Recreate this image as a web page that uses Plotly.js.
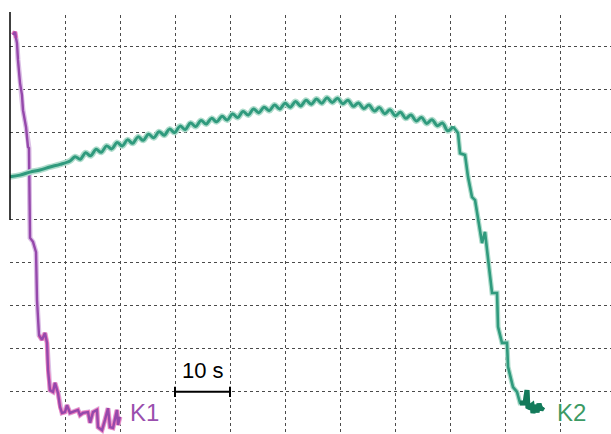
<!DOCTYPE html>
<html>
<head>
<meta charset="utf-8">
<script src="https://cdn.plot.ly/plotly-3.0.1.min.js"></script>
<style>html,body{margin:0;padding:0;background:#fff;}#chart{width:611px;height:434px;}</style>
</head>
<body>
<div id="chart"></div>
<script>
// time in seconds, signal in grid divisions
const k1T = [0.55, 0.91, 1.09, 1.27, 1.45, 1.82, 2.18, 2.36, 2.91, 3.27, 3.45, 3.55, 3.64, 3.64, 4.18, 4.73, 4.91, 5.27, 5.82, 6.36, 6.73, 6.91, 7.27, 7.82, 8.18, 8.73, 9.09, 9.45, 10.0, 10.36, 10.91, 11.45, 12.36, 12.73, 13.27, 14.18, 14.55, 15.09, 15.82, 16.0, 16.73, 17.27, 17.82, 18.18, 18.73, 19.45, 19.64, 20.0];
const k1Y = [9.28, 9.35, 9.21, 9.09, 8.70, 8.16, 7.88, 7.53, 7.14, 6.67, 6.65, 5.44, 4.98, 4.56, 4.47, 4.23, 3.12, 2.30, 2.19, 2.35, 2.12, 1.49, 1.02, 0.98, 1.19, 0.95, 0.63, 0.49, 0.51, 0.67, 0.49, 0.51, 0.56, 0.44, 0.49, 0.51, 0.26, 0.51, 0.56, 0.16, 0.09, 0.33, 0.60, 0.16, 0.14, 0.56, 0.21, 0.40];

const k2T = [0, 1.82, 3.64, 5.45, 7.27, 9.09, 10.91,
  11.82, 12.77, 13.73, 14.68, 15.64, 16.59, 17.55, 18.50, 19.45, 20.41,
  21.36, 22.32, 23.27, 24.23, 25.18, 26.14, 27.09, 28.05, 29.00, 29.95,
  30.91, 31.86, 32.82, 33.77, 34.73, 35.68, 36.64, 37.59, 38.55, 39.50,
  40.45, 41.41, 42.36, 43.32, 44.27, 45.23, 46.18, 47.14, 48.09, 49.05,
  50.00, 50.95, 51.91, 52.86, 53.82, 54.77, 55.73, 56.68, 57.64, 58.59,
  59.55, 60.50, 61.45, 62.41, 63.36, 64.32, 65.27, 66.23, 67.18, 68.14,
  69.09, 70.05, 71.00, 71.95, 72.91, 73.86, 74.82, 75.77, 76.73, 77.68,
  78.64, 79.59, 80.55,
  81.45, 81.82, 82.73, 83.27, 84.0, 84.55, 85.09, 85.82, 86.36, 86.55, 87.09, 87.64, 88.55, 88.73, 89.45, 90.36, 90.55, 91.45, 92.18, 92.73, 93.64, 94.0, 94.18, 94.91, 95.09, 95.45, 95.82, 96.18, 96.55, 96.91];
const k2Y = [5.98, 6.02, 6.09, 6.14, 6.21, 6.27, 6.35,
  6.45, 6.39, 6.54, 6.47, 6.62, 6.55, 6.70, 6.63, 6.78, 6.70,
  6.84, 6.76, 6.91, 6.83, 6.97, 6.89, 7.03, 6.95, 7.09, 7.01,
  7.16, 7.08, 7.23, 7.15, 7.29, 7.21, 7.34, 7.26, 7.39, 7.30,
  7.44, 7.36, 7.50, 7.42, 7.56, 7.47, 7.60, 7.52, 7.65, 7.56,
  7.69, 7.60, 7.73, 7.63, 7.76, 7.67, 7.79, 7.69, 7.82, 7.71,
  7.81, 7.68, 7.76, 7.62, 7.70, 7.57, 7.65, 7.51, 7.59, 7.45,
  7.54, 7.40, 7.48, 7.34, 7.42, 7.28, 7.36, 7.22, 7.31, 7.17,
  7.23, 7.05, 7.15,
  7.00, 6.53, 6.49, 5.98, 5.51, 5.44, 4.98, 4.44, 4.70, 4.44, 3.88, 3.28, 3.28, 2.49, 2.12, 2.12, 1.56, 1.09, 0.98, 0.72, 0.72, 1.02, 0.60, 0.67, 0.49, 0.67, 0.51, 0.70, 0.56, 0.63];

const seriesNames = ['K1', 'K2'];
const scaleBarLabel = '10 s';

const pinkStart = 17;
const dropStart = k2T.findIndex(t => t >= 80.5);
const blobStart = k2T.findIndex(t => t >= 92.7);

const rT = k2T.slice(0, dropStart + 1), rY = k2Y.slice(0, dropStart + 1);
const dT = k2T.slice(dropStart), dY = k2Y.slice(dropStart);

const traces = [
  {x: k1T, y: k1Y, mode: 'lines', line: {color: '#dcc0e6', width: 5}, hoverinfo: 'skip'},
  {x: k1T.slice(0, 3), y: k1Y.slice(0, 3), mode: 'lines', line: {color: '#ef6cb4', width: 4}, hoverinfo: 'skip'},
  {x: k1T.slice(pinkStart), y: k1Y.slice(pinkStart), mode: 'lines', line: {color: '#f07cbc', width: 4}, hoverinfo: 'skip'},
  {x: k1T, y: k1Y, mode: 'lines', name: seriesNames[0], line: {color: '#9548ab', width: 2.4}},
  {x: rT, y: rY, mode: 'lines', line: {color: '#afdccc', width: 6, shape: 'spline', smoothing: 1}, hoverinfo: 'skip'},
  {x: dT, y: dY, mode: 'lines', line: {color: '#afdccc', width: 5}, hoverinfo: 'skip'},
  {x: rT, y: rY, mode: 'lines', name: seriesNames[1], line: {color: '#2f9a7d', width: 3, shape: 'spline', smoothing: 1}},
  {x: dT, y: dY, mode: 'lines', line: {color: '#2f9a7d', width: 2.6}, hoverinfo: 'skip'},
  {x: k2T.slice(blobStart), y: k2Y.slice(blobStart), mode: 'lines', line: {color: '#137a5a', width: 5}, hoverinfo: 'skip'}
];

const layout = {
  width: 611, height: 434,
  margin: {l: 10, r: 0, t: 15, b: 0},
  paper_bgcolor: '#ffffff', plot_bgcolor: '#ffffff',
  showlegend: false,
  font: {family: 'Liberation Sans, Arial, sans-serif'},
  xaxis: {range: [0, 109.27], tick0: 0, dtick: 10, showgrid: true, gridcolor: '#4a4a4a', gridwidth: 1, griddash: '3px,3px',
          zeroline: false, showline: false, showticklabels: false, ticks: ''},
  yaxis: {range: [0, 9.744], tick0: 0, dtick: 1, showgrid: true, gridcolor: '#4a4a4a', gridwidth: 1, griddash: '3px,3px',
          zeroline: false, showline: false, showticklabels: false, ticks: ''},
  shapes: [
    {type: 'line', xref: 'paper', yref: 'paper', x0: 0, x1: 0, y0: 0.511, y1: 1.007, line: {color: '#000000', width: 1.5}},
    {type: 'line', xref: 'x', yref: 'y', x0: 30, x1: 40, y0: 0.98, y1: 0.98, line: {color: '#000000', width: 2}},
    {type: 'line', xref: 'x', yref: 'y', x0: 30, x1: 30, y0: 0.86, y1: 1.10, line: {color: '#000000', width: 2}},
    {type: 'line', xref: 'x', yref: 'y', x0: 40, x1: 40, y0: 0.86, y1: 1.10, line: {color: '#000000', width: 2}}
  ],
  annotations: [
    {x: 35, y: 1.13, xref: 'x', yref: 'y', text: scaleBarLabel, showarrow: false, xanchor: 'center', yanchor: 'bottom',
     font: {size: 22, color: '#000000'}},
    {x: 21.5, y: 0.51, xref: 'x', yref: 'y', text: seriesNames[0], showarrow: false, xanchor: 'left', yanchor: 'middle',
     font: {size: 24, color: '#9a4fae'}},
    {x: 99.1, y: 0.51, xref: 'x', yref: 'y', text: seriesNames[1], showarrow: false, xanchor: 'left', yanchor: 'middle',
     font: {size: 24, color: '#3d9a64'}}
  ]
};

Plotly.newPlot('chart', traces, layout, {staticPlot: true, displayModeBar: false});
</script>
</body>
</html>
